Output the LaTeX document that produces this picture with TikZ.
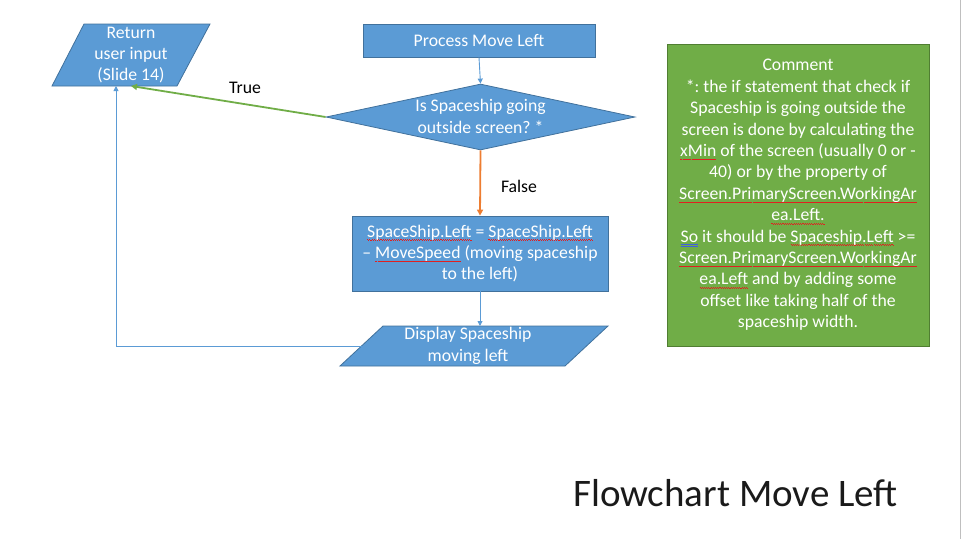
\documentclass[tikz,border=0pt]{standalone}
\usepackage{fontspec}
\setmainfont{Carlito}
\usetikzlibrary{arrows.meta,shapes.geometric}
\frenchspacing
\definecolor{boxblue}{HTML}{5B9BD5}
\definecolor{boxedge}{HTML}{41719C}
\definecolor{notegreen}{HTML}{70AD47}
\definecolor{noteedge}{HTML}{507E32}
\definecolor{falseorange}{HTML}{ED7D31}
\definecolor{titlegrey}{HTML}{1A1A1A}
\definecolor{spellred}{HTML}{E02020}
\definecolor{grammarblue}{HTML}{4060E0}
% spelling and grammar marks under words
\newsavebox\markedword
\newcommand\spellmark[1]{\sbox\markedword{#1}%
  \rlap{\raisebox{-3.6pt}[0pt][0pt]{\textcolor{spellred}{\hbox to \wd\markedword{%
    \xleaders\hbox{\raise0.6pt\hbox{\vrule width 1.1pt height 0.7pt}\vrule width 1.1pt height 0.7pt}\hfill}}}}%
  \usebox\markedword}
\newcommand\grammarmark[1]{\sbox\markedword{#1}%
  \rlap{\raisebox{-4.2pt}[0pt][0pt]{\textcolor{grammarblue}{\vbox{\hrule width \wd\markedword height 0.7pt\vskip 1pt\hrule width \wd\markedword height 0.7pt}}}}%
  \usebox\markedword}
\begin{document}
\begin{tikzpicture}[x=1pt,y=-1pt,
  every node/.style={font=\fontsize{17.7}{21.4}\selectfont, inner sep=0pt, align=center},
  flowbox/.style={draw=boxedge, fill=boxblue, line width=0.8pt, text=white},
  iobox/.style={draw=boxedge, fill=boxblue, line width=0.8pt},
  decision/.style={shape=diamond, draw=boxedge, fill=boxblue, line width=0.8pt},
  notebox/.style={draw=noteedge, fill=notegreen, line width=0.8pt, text=white},
  whitetext/.style={text=white},
  flowline/.style={draw=boxblue, line width=0.9pt, -{Triangle[length=5pt,width=5pt]}},
  trueline/.style={draw=notegreen, line width=1.8pt, -{Triangle[length=6pt,width=6pt]}},
  falseline/.style={draw=falseorange, line width=1.8pt, -{Triangle[length=6pt,width=6pt]}},
  edgelabel/.style={text=black}
]
\useasboundingbox (0,0) rectangle (962,539);

% slide edge
\draw[draw=black!25, line width=1.5pt] (960.5,0) -- (960.5,539);

% input/output: return to user input
\draw[iobox] (84,24) -- (210,24) -- (177,86) -- (52,86) -- cycle;
\node[whitetext] (ret) at (131,55) {Return\\user input\\(Slide 14)};
\coordinate (retin) at (131,86);
\coordinate (retloop) at (116,86);

% process box
\node[flowbox, minimum width=232pt, minimum height=33pt] (proc) at (479,40.5) {Process Move Left};

% decision
\node[decision, minimum width=309pt, minimum height=66pt] (dec) at (480.5,117) {};
\node[whitetext] (dectext) at (480.5,116.5) {Is Spaceship going\\outside screen? *};

% assignment box
\node[flowbox, minimum width=256pt, minimum height=75pt] (assign) at (480,253.5)
  {\spellmark{SpaceShip.Left} = \spellmark{SpaceShip.Left}\\
   – \spellmark{MoveSpeed} (moving spaceship\\to the left)};

% input/output: display
\draw[iobox] (383,326) -- (608,326) -- (565,366) -- (340,366) -- cycle;
\node[whitetext] (disp) at (468,346) {Display Spaceship\\moving left};
\coordinate (dispin) at (480,326);
\coordinate (dispout) at (361.5,346);

% comment box
\node[notebox, minimum width=262pt, minimum height=302pt] (note) at (798,195)
  {Comment\\
   *: the if statement that check if\\
   Spaceship is going outside the\\
   screen is done by calculating the\\
   \spellmark{xMin} of the screen (usually 0 or -\\
   40) or by the property of\\
   \spellmark{Screen.PrimaryScreen.WorkingAr}\\
   \spellmark{ea.Left.}\\
   \grammarmark{So} it should be \spellmark{Spaceship.Left} >=\\
   \spellmark{Screen.PrimaryScreen.WorkingAr}\\
   \spellmark{ea.Left} and by adding some\\
   offset like taking half of the\\
   spaceship width.};

% connectors
\draw[flowline] (proc.south) -- (dec.north);
\draw[trueline] (dec.west) -- (retin);
\draw[falseline] (dec.south) -- (assign.north);
\draw[flowline] (assign.south) -- (dispin);
\draw[flowline] (dispout) -| (retloop);

% edge labels
\node[edgelabel] (truelbl) at (245,88) {True};
\node[edgelabel] (falselbl) at (519,186) {False};

% title
\node[text=titlegrey, font=\fontsize{39}{47}\selectfont, anchor=base west] (title) at (573,506) {Flowchart Move Left};
\end{tikzpicture}
\end{document}
